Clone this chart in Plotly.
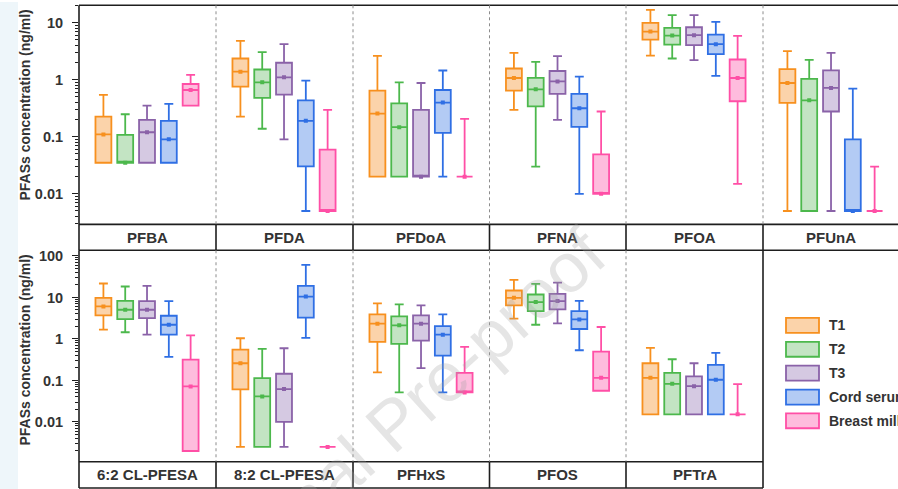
import plotly.graph_objects as go
from plotly.subplots import make_subplots

# ---------------- data ----------------
groups = ["T1", "T2", "T3", "Cord serum", "Breast milk"]
line_colors = ["#F7901E", "#4CB84C", "#8A62A8", "#2F6FE4", "#FF4FA6"]
fill_colors = ["#FBD3AA", "#C3E4C3", "#D5C9E2", "#B3CBF4", "#FEBCDD"]

top_panels = ["PFBA", "PFDA", "PFDoA", "PFNA", "PFOA", "PFUnA"]
bottom_panels = ["6:2 CL-PFESA", "8:2 CL-PFESA", "PFHxS", "PFOS", "PFTrA"]

top_tickvals = [0.01, 0.1, 1, 10]
top_ticktext = ["0.01", "0.1", "1", "10"]
bottom_tickvals = [0.01, 0.1, 1, 10, 100]
bottom_ticktext = ["0.01", "0.1", "1", "10", "100"]

y_title = "PFASs concentration (ng/ml)"
watermark = "Journal Pre-proof"

# order of values in each list: T1, T2, T3, Cord serum, Breast milk
PFBA = dict(lower=[0.035, 0.035, 0.035, 0.035, 0.35],
            q1=[0.035, 0.035, 0.035, 0.035, 0.35],
            median=[0.11, 0.035, 0.12, 0.09, 0.66],
            q3=[0.226, 0.108, 0.198, 0.19, 0.84],
            upper=[0.54, 0.248, 0.35, 0.377, 1.21])
PFDA = dict(lower=[0.226, 0.138, 0.09, 0.005, 0.005],
            q1=[0.755, 0.48, 0.547, 0.0303, 0.005],
            median=[1.38, 0.90, 1.10, 0.19, 0.005],
            q3=[2.35, 1.51, 1.98, 0.435, 0.0593],
            upper=[4.8, 3.04, 4.2, 0.96, 0.296])
PFDoA = dict(lower=[0.02, 0.02, 0.02, 0.02, 0.02],
             q1=[0.02, 0.02, 0.02, 0.117, 0.02],
             median=[0.255, 0.147, 0.02, 0.397, 0.02],
             q3=[0.643, 0.386, 0.296, 0.66, 0.02],
             upper=[2.62, 0.90, 0.875, 1.45, 0.206])
PFNA = dict(lower=[0.296, 0.030, 0.198, 0.01, 0.01],
            q1=[0.643, 0.342, 0.562, 0.149, 0.01],
            median=[1.07, 0.678, 0.933, 0.316, 0.01],
            q3=[1.57, 1.08, 1.42, 0.562, 0.049],
            upper=[2.96, 2.06, 2.59, 1.13, 0.277])
PFOA = dict(lower=[2.65, 2.35, 2.2, 1.17, 0.0149],
            q1=[5.05, 4.13, 4.03, 2.81, 0.419],
            median=[6.97, 5.93, 6.03, 4.2, 1.07],
            q3=[9.9, 8.08, 8.3, 6.18, 2.26],
            upper=[16.7, 13.5, 13.5, 10.3, 5.86])
PFUnA = dict(lower=[0.005, 0.005, 0.005, 0.005, 0.005],
             q1=[0.392, 0.005, 0.277, 0.005, 0.005],
             median=[0.875, 0.435, 0.716, 0.005, 0.005],
             q3=[1.53, 1.03, 1.46, 0.0897, 0.005],
             upper=[3.16, 2.23, 2.96, 0.697, 0.030])
CL62_PFESA = dict(lower=[1.67, 1.45, 1.27, 0.37, 0.002],
                  q1=[3.7, 3.0, 3.19, 1.27, 0.002],
                  median=[6.08, 5.06, 5.06, 2.2, 0.0718],
                  q3=[9.8, 8.3, 8.2, 3.63, 0.319],
                  upper=[21.7, 18.4, 19.1, 8.2, 1.22])
CL82_PFESA = dict(lower=[0.0025, 0.0025, 0.0025, 1.06, 0.0025],
                  q1=[0.0608, 0.0025, 0.01, 3.25, 0.0025],
                  median=[0.26, 0.0413, 0.062, 10.5, 0.0025],
                  q3=[0.555, 0.114, 0.145, 19.1, 0.0025],
                  upper=[1.04, 0.575, 0.597, 60.8, 0.0025])
PFHxS = dict(lower=[0.156, 0.0515, 0.198, 0.0515, 0.0515],
             q1=[0.847, 0.76, 0.91, 0.398, 0.0515],
             median=[2.33, 2.13, 2.33, 1.27, 0.0515],
             q3=[3.91, 3.5, 3.7, 2.05, 0.153],
             upper=[7.18, 6.79, 6.43, 3.91, 0.643])
PFOS = dict(lower=[3.08, 2.2, 2.38, 0.535, 0.0565],
            q1=[6.43, 4.7, 5.15, 1.74, 0.0565],
            median=[9.8, 7.73, 8.2, 2.96, 0.116],
            q3=[14.7, 11.8, 12.2, 4.7, 0.497],
            upper=[26.5, 21.3, 22.9, 8.3, 1.94])
PFTrA = dict(lower=[0.0153, 0.0153, 0.0153, 0.0153, 0.0153],
             q1=[0.0153, 0.0153, 0.0153, 0.0153, 0.0153],
             median=[0.116, 0.083, 0.073, 0.104, 0.0153],
             q3=[0.26, 0.153, 0.125, 0.238, 0.0153],
             upper=[0.608, 0.325, 0.26, 0.461, 0.0817])

top_data = [PFBA, PFDA, PFDoA, PFNA, PFOA, PFUnA]
bottom_data = [CL62_PFESA, CL82_PFESA, PFHxS, PFOS, PFTrA]

# ---------------- layout geometry (pixels) ----------------
W, H = 898, 489
col_edges = [79, 216, 353, 489.5, 626, 763, 898]
row_plot = [(3.3, 223.3), (249.3, 461.7)]
row_strip = [(223.3, 249.3), (461.7, 488.0)]
yranges = [(-2.536, 1.304), (-2.96, 2.137)]
PX_PER_CAT = 21.8
CAT_START = -1.12

FONT = "Liberation Sans, Arial, sans-serif"
TXT = "#333333"
FRAME = "#1e1e1e"


def fx(px):
    return px / W


def fy(py):
    return 1 - py / H


fig = make_subplots(rows=2, cols=6)

rows = [(top_panels, top_data), (bottom_panels, bottom_data)]
for r, (names, datas) in enumerate(rows):
    for c, d in enumerate(datas):
        for g in range(len(groups)):
            fig.add_trace(go.Box(
                x=[groups[g]],
                q1=[d["q1"][g]], median=[d["median"][g]], q3=[d["q3"][g]],
                lowerfence=[d["lower"][g]], upperfence=[d["upper"][g]],
                fillcolor=fill_colors[g],
                line=dict(color=line_colors[g], width=1.8),
                width=0.73, whiskerwidth=0.56, boxpoints=False,
                showlegend=False, name=groups[g],
            ), row=r + 1, col=c + 1)
        fig.add_trace(go.Scatter(
            x=groups, y=d["median"], mode="markers",
            marker=dict(symbol="square", size=4, color=line_colors,
                        line=dict(width=0)),
            showlegend=False, hoverinfo="skip",
        ), row=r + 1, col=c + 1)

# axes
for r in range(2):
    for c in range(6):
        k = r * 6 + c + 1
        xa = "xaxis" if k == 1 else f"xaxis{k}"
        ya = "yaxis" if k == 1 else f"yaxis{k}"
        x0, x1 = col_edges[c], col_edges[c + 1]
        y0, y1 = row_plot[r]
        visible = not (r == 1 and c == 5)
        fig.layout[xa].update(
            domain=[fx(x0), fx(x1)], type="category", categoryorder="array",
            categoryarray=groups,
            range=[CAT_START, CAT_START + (x1 - x0) / PX_PER_CAT],
            showticklabels=False, showgrid=False, zeroline=False,
            showline=False, ticks="", visible=visible)
        tv = top_tickvals if r == 0 else bottom_tickvals
        tt = top_ticktext if r == 0 else bottom_ticktext
        first = (c == 0)
        fig.layout[ya].update(
            domain=[fy(y1), fy(y0)], type="log", range=list(yranges[r]),
            showgrid=False, zeroline=False, showline=False,
            tickvals=tv, ticktext=tt, showticklabels=first,
            ticks="outside" if first else "", ticklen=6, tickwidth=1.3,
            tickcolor=FRAME, ticklabelstandoff=6,
            tickfont=dict(family=FONT, size=14.5, color=TXT, weight="bold"),
            minor=dict(ticks="outside" if first else "", ticklen=3,
                       tickwidth=1, tickcolor=FRAME, dtick="D1",
                       showgrid=False),
            visible=visible)

shapes = []
# light page strip on the left
shapes.append(dict(type="rect", xref="paper", yref="paper", x0=0, x1=fx(18),
                   y0=0, y1=1, fillcolor="#EEF6FA", line=dict(width=0),
                   layer="below"))


def hline(px0, px1, py, color=FRAME, width=1.6, dash="solid"):
    shapes.append(dict(type="line", xref="paper", yref="paper",
                       x0=fx(px0), x1=fx(px1), y0=fy(py), y1=fy(py),
                       line=dict(color=color, width=width, dash=dash)))


def vline(px, py0, py1, color=FRAME, width=1.6, dash="solid"):
    shapes.append(dict(type="line", xref="paper", yref="paper",
                       x0=fx(px), x1=fx(px), y0=fy(py0), y1=fy(py1),
                       line=dict(color=color, width=width, dash=dash)))


# row 1 frame
hline(col_edges[0], W, row_plot[0][0])
hline(col_edges[0], W, row_plot[0][1])
hline(col_edges[0], W, row_strip[0][1])
vline(col_edges[0], row_plot[0][0], row_strip[0][1])
for x in col_edges[1:6]:
    vline(x, row_plot[0][0], row_plot[0][1], color="#8c8c8c", width=1, dash="dot")
    vline(x, row_strip[0][0], row_strip[0][1])
# row 2 frame
hline(col_edges[0], col_edges[5], row_plot[1][1])
hline(col_edges[0], col_edges[5], row_strip[1][1])
vline(col_edges[0], row_plot[1][0], row_strip[1][1])
for x in col_edges[1:5]:
    vline(x, row_plot[1][0], row_plot[1][1], color="#8c8c8c", width=1, dash="dot")
    vline(x, row_strip[1][0], row_strip[1][1])
vline(col_edges[5], row_plot[1][0], row_strip[1][1])

annotations = []
# strip labels
for r, (names, _) in enumerate(rows):
    ys = (row_strip[r][0] + row_strip[r][1]) / 2
    for c, nm in enumerate(names):
        xc = (col_edges[c] + col_edges[c + 1]) / 2
        annotations.append(dict(xref="paper", yref="paper", x=fx(xc), y=fy(ys),
                                text=f"<b>{nm}</b>", showarrow=False,
                                font=dict(family=FONT, size=15, color=TXT),
                                xanchor="center", yanchor="middle"))
# y titles
for yc in [104, 350]:
    annotations.append(dict(xref="paper", yref="paper", x=fx(25), y=fy(yc),
                            text=f"<b>{y_title}</b>", showarrow=False,
                            textangle=-90,
                            font=dict(family=FONT, size=14, color=TXT),
                            xanchor="center", yanchor="middle"))

# legend (manual)
leg_y = [324.7, 348.7, 372.7, 396.7, 420.5]
for g in range(len(groups)):
    shapes.append(dict(type="rect", xref="paper", yref="paper",
                       x0=fx(786), x1=fx(819), y0=fy(leg_y[g] + 7.5),
                       y1=fy(leg_y[g] - 7.5), fillcolor=fill_colors[g],
                       line=dict(color=line_colors[g], width=1.8)))
    annotations.append(dict(xref="paper", yref="paper", x=fx(827), y=fy(leg_y[g]),
                            text=f"<b>{groups[g]}</b>", showarrow=False,
                            font=dict(family=FONT, size=14, color=TXT),
                            xanchor="left", yanchor="middle"))

# watermark
annotations.append(dict(xref="paper", yref="paper", x=fx(393), y=fy(424),
                        text=watermark, showarrow=False, textangle=-42,
                        font=dict(family=FONT, size=70,
                                  color="rgba(160,160,160,0.28)"),
                        xanchor="center", yanchor="middle"))

fig.update_layout(
    width=W, height=H, margin=dict(l=0, r=0, t=0, b=0),
    paper_bgcolor="white", plot_bgcolor="rgba(0,0,0,0)",
    shapes=shapes, annotations=annotations, boxmode="overlay",
    showlegend=False,
)

fig.write_html(
    "out.html",
    config={"displayModeBar": False},
    post_script="document.body.style.margin='0';"
                "document.body.style.overflow='hidden';",
)
